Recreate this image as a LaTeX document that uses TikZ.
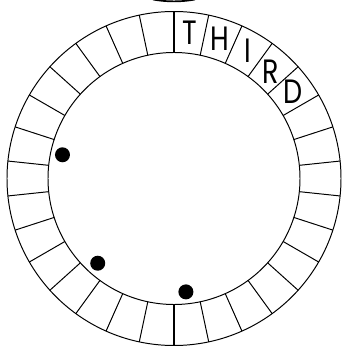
\documentclass[tikz,border=0pt]{standalone}
\usepackage{fontspec}
\setmainfont{Poppins}
\usepackage{tikz}
\usetikzlibrary{positioning}

\newcommand{\cellchar}[1]{\scalebox{0.8}[1]{#1}}

\begin{document}
\begin{tikzpicture}[
  x=0.025cm, y=0.025cm,
  ring/.style={line width=0.7pt},
  spoke/.style={line width=0.7pt},
  mainspoke/.style={line width=1.4pt},
  letter/.style={font=\fontsize{24}{24}\selectfont, inner sep=0pt}
]
\useasboundingbox (-174,-168.5) rectangle (168,178.5);
\clip (-174,-168.5) rectangle (168,178.5);

%% ── RING: outer and inner circles ───────────────────────────────────
\draw[ring] (0,0) circle (167);
\draw[ring] (0,0) circle (126);

%% ── SPOKES: 30 cells, 12 degrees each ───────────────────────────────
\foreach \a in {1,...,14} {
  \draw[spoke] (90-12*\a:126) -- (90-12*\a:167);
  \draw[spoke] (90+12*\a:126) -- (90+12*\a:167);
}
\draw[mainspoke] (90:126) -- (90:167);
\draw[mainspoke] (270:126) -- (270:167);

%% ── LETTERS in the top-right cells ──────────────────────────────────
\node[letter] (lt) at (84:147) {\cellchar{T}};
\node[letter] (lh) at (72:147) {\cellchar{H}};
\node[letter] (li) at (60:147) {\cellchar{I}};
\node[letter] (lr) at (48:144) {\cellchar{R}};
\node[letter] (ld) at (36:147) {\cellchar{D}};

%% ── MARKERS inside the ring ─────────────────────────────────────────
\fill (168:114) circle (7.5);
\fill (228:114) circle (7.5);
\fill (276:114) circle (7.5);

%% ── top edge: cut-off shape above the ring ──────────────────────────
\draw[line width=1.2pt] (-21,179) .. controls (-8,176.5) and (8,176.5) .. (21,179);

\end{tikzpicture}
\end{document}
